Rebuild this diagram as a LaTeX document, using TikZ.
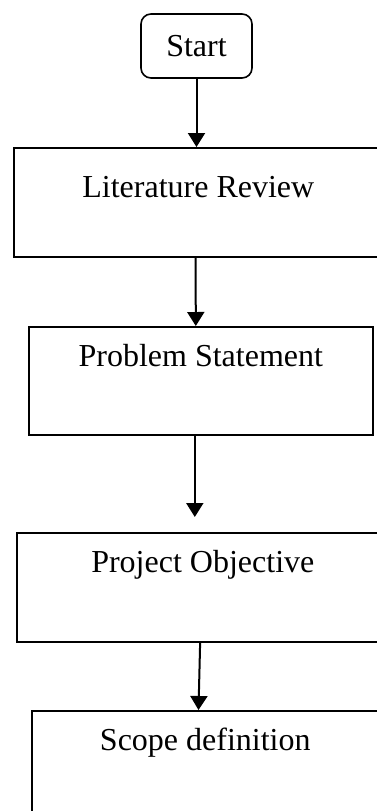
\documentclass[tikz,border=0pt]{standalone}
\usepackage{fontspec}
\setmainfont{Liberation Serif}
\usepackage{xcolor}
\usepackage{tikz}
\usetikzlibrary{arrows.meta}

\begin{document}
\begin{tikzpicture}[x=0.75pt,y=0.75pt,yscale=-1,xscale=1,
  stepbox/.style={draw,line width=1.2pt,inner sep=0pt,anchor=north west,
    font=\fontsize{24pt}{28pt}\selectfont},
  startbox/.style={draw,line width=1.2pt,rounded corners=7.5pt,inner sep=0pt,
    minimum width=83.25pt,minimum height=48pt,font=\fontsize{24pt}{28pt}\selectfont},
  flowarrow/.style={line width=1.5pt,-{Triangle[width=12.75pt,length=10.5pt]}}]
\useasboundingbox (0,0) rectangle (376,811);

%Shape: Rounded Rect
\node [startbox] (start) at (196.5,46) {Start};
%Shape: Rectangle
\node [stepbox,minimum width=276.75pt,text height=37.5pt,text depth=44.5pt] (lit) at (13,147) {Literature Review};
%Shape: Rectangle
\node [stepbox,minimum width=258pt,text height=30pt,text depth=51pt] (ps) at (28,326) {Problem Statement};
%Shape: Rectangle
\node [stepbox,minimum width=279pt,text height=30pt,text depth=51.75pt] (po) at (16,532) {Project Objective};
%Shape: Rectangle
\node [stepbox,minimum width=260.25pt,text height=30pt,text depth=48.75pt] (sd) at (31,710) {Scope definition};

%Straight Lines
\draw [flowarrow] (start.south) -- (start.south |- lit.north);
\draw [flowarrow] ([xshift=-2pt]lit.south) -- ([xshift=-3.75pt]ps.north);
\draw [flowarrow,shorten >=11.25pt] ([xshift=-4.5pt]ps.south) -- ([xshift=-4.5pt]ps.south |- po.north);
\draw [flowarrow] ([xshift=-2pt]po.south) -- ([xshift=-5.1pt]sd.north);

\end{tikzpicture}
\end{document}
